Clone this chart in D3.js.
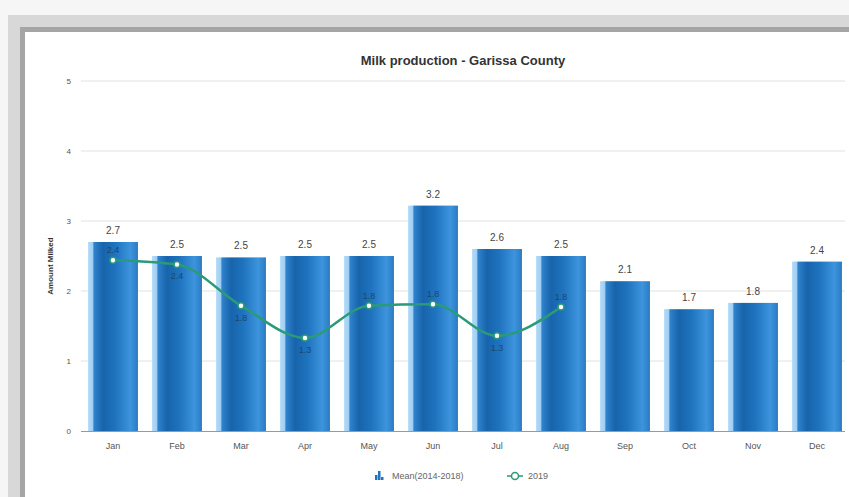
<!DOCTYPE html>
<html>
<head>
<meta charset="utf-8">
<script src="https://cdn.jsdelivr.net/npm/d3@7"></script>
<style>
  html, body { margin: 0; padding: 0; background: #f4f4f4; }
  svg { display: block; font-family: "Liberation Sans", Arial, sans-serif; }
</style>
</head>
<body>
<div id="chart"></div>
<script>
// chart data
const months = ['Jan', 'Feb', 'Mar', 'Apr', 'May', 'Jun', 'Jul', 'Aug', 'Sep', 'Oct', 'Nov', 'Dec'];
const meanValues = [2.7, 2.5, 2.48, 2.5, 2.5, 3.22, 2.6, 2.5, 2.14, 1.74, 1.83, 2.42];
const values2019 = [2.44, 2.38, 1.79, 1.33, 1.79, 1.81, 1.36, 1.77];
const labels2019 = ['2.4', '2.4', '1.8', '1.3', '1.8', '1.8', '1.3', '1.8'];
const labelBelow = [false, true, true, true, false, false, true, false];
const yTicks = [0, 1, 2, 3, 4, 5];
const seriesNames = ['Mean(2014-2018)', '2019'];

const width = 849;
const height = 497;
const lineColor = '#2a9a78';

const svg = d3.select('#chart').append('svg')
  .attr('width', width)
  .attr('height', height);

// page frame
svg.append('rect').attr('x', 0).attr('y', 0).attr('width', width).attr('height', height).attr('fill', '#f6f6f6');
svg.append('rect').attr('x', 8).attr('y', 15).attr('width', width - 8).attr('height', height - 15).attr('fill', '#d8d8d8');
svg.append('rect').attr('x', 20).attr('y', 27).attr('width', width - 20).attr('height', height - 27).attr('fill', '#a5a5a5');
svg.append('rect').attr('x', 25).attr('y', 32).attr('width', width - 25).attr('height', height - 32).attr('fill', '#ffffff');

const defs = svg.append('defs');
const grad = defs.append('linearGradient')
  .attr('id', 'barGrad')
  .attr('x1', '0%').attr('x2', '100%').attr('y1', '0%').attr('y2', '0%');
[
  ['0%', '#b6dcf7'], ['9%', '#9fcff3'], ['12%', '#2f82cc'], ['30%', '#1764ab'],
  ['55%', '#1f73bf'], ['85%', '#3d94dc'], ['100%', '#2a7cc4']
].forEach(([o, c]) => grad.append('stop').attr('offset', o).attr('stop-color', c));

const x = d3.scaleBand()
  .domain(months)
  .range([81, 849])
  .paddingInner(0.22)
  .paddingOuter(0.11);

const y = d3.scaleLinear()
  .domain([0, 5])
  .range([431, 81]);

// gridlines
svg.append('g')
  .selectAll('line')
  .data(yTicks.filter(d => d > 0))
  .enter().append('line')
  .attr('x1', 81).attr('x2', 845)
  .attr('y1', d => y(d)).attr('y2', d => y(d))
  .attr('stroke', '#e2e2e2')
  .attr('stroke-width', 1);

// y axis labels
svg.append('g')
  .selectAll('text')
  .data(yTicks)
  .enter().append('text')
  .attr('x', 71)
  .attr('y', d => y(d) + 3)
  .attr('text-anchor', 'end')
  .attr('font-size', 8)
  .attr('fill', '#555')
  .text(d => d);

// bars
svg.append('g')
  .selectAll('rect')
  .data(meanValues)
  .enter().append('rect')
  .attr('x', (d, i) => x(months[i]))
  .attr('y', d => y(d))
  .attr('width', x.bandwidth())
  .attr('height', d => y(0) - y(d))
  .attr('fill', 'url(#barGrad)');

// bar labels
svg.append('g')
  .selectAll('text')
  .data(meanValues)
  .enter().append('text')
  .attr('x', (d, i) => x(months[i]) + x.bandwidth() / 2)
  .attr('y', d => y(d) - 8)
  .attr('text-anchor', 'middle')
  .attr('font-size', 10)
  .attr('fill', '#444')
  .text(d => (Math.round(d * 10) / 10).toFixed(1));

// x axis
svg.append('line')
  .attr('x1', 81).attr('x2', 845)
  .attr('y1', y(0) + 0.5).attr('y2', y(0) + 0.5)
  .attr('stroke', '#999');

svg.append('g')
  .selectAll('text')
  .data(months)
  .enter().append('text')
  .attr('x', d => x(d) + x.bandwidth() / 2)
  .attr('y', 449)
  .attr('text-anchor', 'middle')
  .attr('font-size', 9)
  .attr('fill', '#555')
  .text(d => d);

// 2019 line
const line = d3.line()
  .x((d, i) => x(months[i]) + x.bandwidth() / 2)
  .y(d => y(d))
  .curve(d3.curveMonotoneX);

svg.append('path')
  .datum(values2019)
  .attr('d', line)
  .attr('fill', 'none')
  .attr('stroke', lineColor)
  .attr('stroke-width', 2.5);

svg.append('g')
  .selectAll('circle')
  .data(values2019)
  .enter().append('circle')
  .attr('cx', (d, i) => x(months[i]) + x.bandwidth() / 2)
  .attr('cy', d => y(d))
  .attr('r', 3)
  .attr('fill', '#fff')
  .attr('stroke', lineColor)
  .attr('stroke-width', 1.5);

svg.append('g')
  .selectAll('text')
  .data(values2019)
  .enter().append('text')
  .attr('x', (d, i) => x(months[i]) + x.bandwidth() / 2)
  .attr('y', (d, i) => labelBelow[i] ? y(d) + 15 : y(d) - 7)
  .attr('text-anchor', 'middle')
  .attr('font-size', 9)
  .attr('fill', '#1b3d5a')
  .attr('opacity', 0.8)
  .text((d, i) => labels2019[i]);

// title
svg.append('text')
  .attr('x', 463)
  .attr('y', 65)
  .attr('text-anchor', 'middle')
  .attr('font-size', 13)
  .attr('font-weight', 'bold')
  .attr('fill', '#333')
  .text('Milk production - Garissa County');

// y axis title
svg.append('text')
  .attr('transform', 'translate(53, 266) rotate(-90)')
  .attr('text-anchor', 'middle')
  .attr('font-size', 8)
  .attr('font-weight', 'bold')
  .attr('fill', '#333')
  .text('Amount Milked');

// legend
const legend = svg.append('g');
const barIcon = legend.append('g').attr('transform', 'translate(375, 471)');
[[0, 4, 5], [3, 0, 9], [6, 6, 3]].forEach(([dx, dy, h]) => {
  barIcon.append('rect').attr('x', dx).attr('y', dy).attr('width', 2.5).attr('height', h).attr('fill', '#1f73bf');
});
legend.append('text')
  .attr('x', 392).attr('y', 479)
  .attr('font-size', 9)
  .attr('fill', '#666')
  .text(seriesNames[0]);

legend.append('line')
  .attr('x1', 507).attr('x2', 523)
  .attr('y1', 476).attr('y2', 476)
  .attr('stroke', lineColor).attr('stroke-width', 1.5);
legend.append('circle')
  .attr('cx', 515).attr('cy', 476).attr('r', 3.5)
  .attr('fill', '#fff').attr('stroke', lineColor).attr('stroke-width', 1.5);
legend.append('text')
  .attr('x', 528).attr('y', 479)
  .attr('font-size', 9)
  .attr('fill', '#666')
  .text(seriesNames[1]);
</script>
</body>
</html>
